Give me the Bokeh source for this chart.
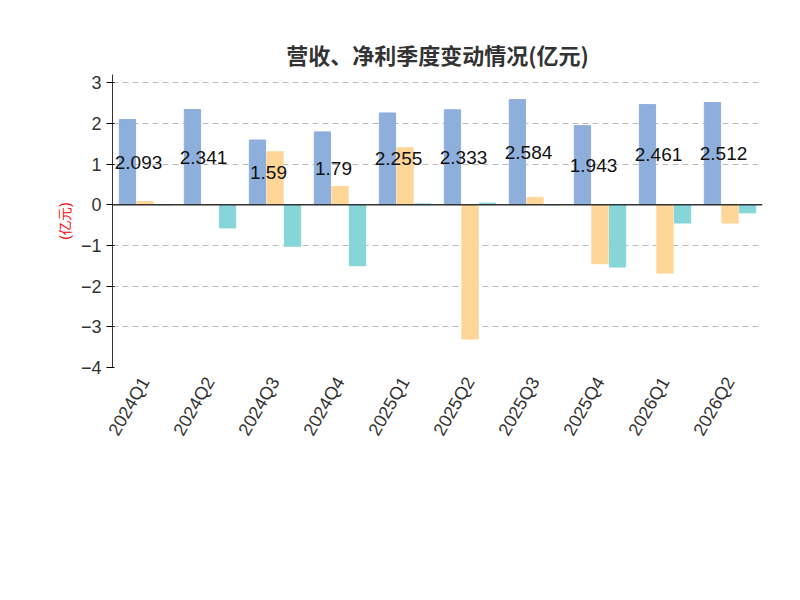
from bokeh.plotting import figure
from bokeh.models import Legend, LegendItem, Span, Label, FixedTicker, Range1d
from bokeh.embed import file_html
from bokeh.resources import INLINE

quarters = ["2024Q1","2024Q2","2024Q3","2024Q4","2025Q1","2025Q2","2025Q3","2025Q4","2026Q1","2026Q2"]
revenue = [2.093,2.341,1.59,1.79,2.255,2.333,2.584,1.943,2.461,2.512]
rev_labels = ["2.093","2.341","1.59","1.79","2.255","2.333","2.584","1.943","2.461","2.512"]
net = [0.08,0.0,1.3,0.45,1.4,-3.3,0.18,-1.45,-1.68,-0.45]
net_deducted = [0.0,-0.57,-1.02,-1.5,0.02,0.04,0.0,-1.53,-0.45,-0.2]

x = list(range(len(quarters)))
p = figure(width=784, height=584, output_backend="svg", toolbar_location=None,
           x_range=Range1d(-0.5, 9.5), y_range=Range1d(-4, 3.2),
           min_border_left=112, min_border_right=22, min_border_top=74, min_border_bottom=217)
p.outline_line_color = None
p.title.text = "营收、净利季度变动情况(亿元)"
p.title.align = "center"
p.title.text_font_size = "22px"
p.title.text_color = "#333333"
p.title.text_font = "Noto Sans CJK SC"

w = 0.25
r1 = p.vbar(x=[i-0.27 for i in x], top=revenue, width=w, color="#8eaedc")
r2 = p.vbar(x=x, top=net, width=w, color="#fdd698")
r3 = p.vbar(x=[i+0.27 for i in x], top=net_deducted, width=w, color="#86d5d8")
p.text(x=[i-0.1 for i in x], y=[v/2 for v in revenue], text=rev_labels, text_align="center",
       text_baseline="middle", text_font_size="19px", text_color="#111111")

p.add_layout(Span(location=0, dimension="width", line_color="#333333", line_width=1.5))
p.xgrid.visible = False
p.ygrid.grid_line_dash = "6 4"
p.ygrid.grid_line_color = "#bbbbbb"
p.yaxis.ticker = FixedTicker(ticks=[-4,-3,-2,-1,0,1,2,3])
p.yaxis.major_label_text_font_size = "18px"
p.yaxis.major_label_text_color = "#333333"
p.yaxis.axis_line_color = "#333333"
p.yaxis.minor_tick_line_color = None
p.yaxis.axis_label = "(亿元)"
p.yaxis.axis_label_text_color = "red"
p.yaxis.axis_label_text_font_style = "normal"
p.yaxis.axis_label_text_font_size = "14px"
p.xaxis.ticker = FixedTicker(ticks=x)
p.xaxis.major_label_overrides = {i: q for i, q in enumerate(quarters)}
p.xaxis.major_label_orientation = 1.05
p.xaxis.major_label_text_font_size = "18px"
p.xaxis.major_label_text_color = "#333333"
p.xaxis.axis_line_color = None
p.xaxis.major_tick_line_color = None
p.xaxis.minor_tick_line_color = None

legend = Legend(items=[LegendItem(label="营业总收入", renderers=[r1]),
                       LegendItem(label="归母净利润", renderers=[r2]),
                       LegendItem(label="扣非净利润", renderers=[r3])],
                orientation="horizontal", location=(-20, -188), border_line_color=None,
                background_fill_alpha=0,
                label_text_font_size="19px", label_text_color="#333333",
                glyph_width=48, glyph_height=26, spacing=20)
p.add_layout(legend, "center")
p.add_layout(Label(x=280, y=-222, x_units="screen", y_units="screen",
                   text="制图数据来自恒生聚源数据库", text_align="center", text_color="#c8a03c",
                   text_font_size="15px"))

open("out.html", "w").write(file_html(p, INLINE))
